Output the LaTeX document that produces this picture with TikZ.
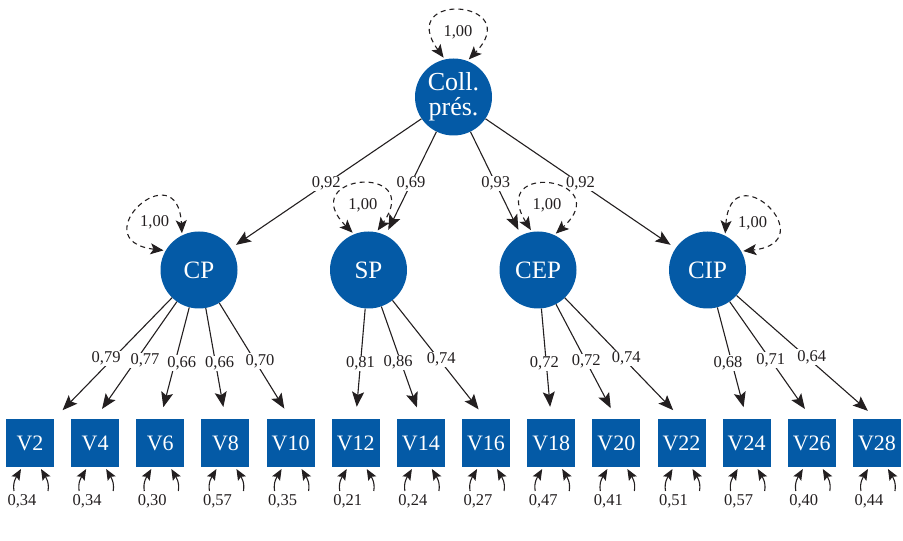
\documentclass[tikz,border=0pt]{standalone}
\usepackage{fontspec}
\setmainfont{Liberation Serif}
\usetikzlibrary{shapes.geometric, arrows.meta, positioning}
\definecolor{semblue}{RGB}{4,90,166}
\definecolor{ink}{RGB}{35,31,32}
\tikzstyle{latent} = [circle, minimum size=77pt, inner sep=0pt, fill=semblue, text=white, font=\fontsize{25}{25}\selectfont]
\tikzstyle{observed} = [rectangle, minimum size=48pt, inner sep=0pt, fill=semblue, text=white, font=\fontsize{22}{22}\selectfont]
\tikzstyle{arrow} = [line width=1.1pt, draw=ink, -{Stealth[length=15pt,width=12pt,inset=3pt]}]
\tikzstyle{loading} = [arrow, shorten >=12pt]
\tikzstyle{lbl} = [fill=white, inner sep=1pt, text=ink, font=\fontsize{16.5}{16.5}\selectfont]
\tikzstyle{numlbl} = [inner sep=1pt, text=ink, font=\fontsize{16.5}{16.5}\selectfont]
\tikzstyle{varloop} = [line width=1.1pt, draw=ink, dash pattern=on 5pt off 4pt, shorten <=2pt, shorten >=2pt, {Stealth[length=13pt,width=11pt,inset=3pt]}-{Stealth[length=13pt,width=11pt,inset=3pt]}]
\tikzstyle{resid} = [line width=1.1pt, draw=ink, -{Stealth[length=11pt,width=9pt,inset=2pt]}]

% variance loop of a latent: node, axis angle
\newcommand{\latvar}[2]{%
  \pgfmathtruncatemacro{\lvS}{#2+17}%
  \pgfmathtruncatemacro{\lvE}{#2-17}%
  \pgfmathtruncatemacro{\lvO}{#2+40}%
  \pgfmathtruncatemacro{\lvI}{#2-40}%
  \draw [varloop] (#1.\lvS) to[out=\lvO, in=\lvI, distance=85pt] (#1.\lvE);
  \node [numlbl] (var#1) at ([shift={(#2:65pt)}]#1.center) {1,00};
}
% residual of an indicator: node, value
\newcommand{\resvar}[2]{%
  \draw [resid] ([shift={(-16pt,-48pt)}]#1.center) to[out=100, in=240] ([shift={(-9pt,-26pt)}]#1.center);
  \draw [resid] ([shift={(18pt,-48pt)}]#1.center) to[out=80, in=300] ([shift={(11pt,-26pt)}]#1.center);
  \node [numlbl] (e#1) at ([shift={(-8pt,-58pt)}]#1.center) {#2};
}

\begin{document}
\begin{tikzpicture}[x=1pt, y=1pt, node distance=65.15pt]
\useasboundingbox (0,0) rectangle (903,541);
% Nodes
\node (coll) [latent, align=center, font=\fontsize{26}{25}\selectfont] at (453.5,444) {Coll.\\prés.};
\node (CP) [latent] at (199,271) {CP};
\node (SP) [latent, right of=CP, node distance=169.5pt] {SP};
\node (CEP) [latent, right of=SP, node distance=169.5pt] {CEP};
\node (CIP) [latent, right of=CEP, node distance=169.5pt] {CIP};

\node (V2) [observed] at (30,98) {V2};
\node (V4) [observed, right of=V2] {V4};
\node (V6) [observed, right of=V4] {V6};
\node (V8) [observed, right of=V6] {V8};
\node (V10) [observed, right of=V8] {V10};
\node (V12) [observed, right of=V10] {V12};
\node (V14) [observed, right of=V12] {V14};
\node (V16) [observed, right of=V14] {V16};
\node (V18) [observed, right of=V16] {V18};
\node (V20) [observed, right of=V18] {V20};
\node (V22) [observed, right of=V20] {V22};
\node (V24) [observed, right of=V22] {V24};
\node (V26) [observed, right of=V24] {V26};
\node (V28) [observed, right of=V26] {V28};

% Arrows
\draw [arrow, shorten >=6pt] (coll) -- node[lbl] (g1) {0,92} (CP);
\draw [arrow, shorten >=6pt] (coll) -- node[lbl] (g2) {0,69} (SP);
\draw [arrow, shorten >=6pt] (coll) -- node[lbl] (g3) {0,93} (CEP);
\draw [arrow, shorten >=6pt] (coll) -- node[lbl] (g4) {0,92} (CIP);

\draw [loading] (CP) -- node[lbl, xshift=-7pt] (l2) {0,79} (V2.north east);
\draw [loading] (CP) -- node[lbl, xshift=9pt] (l4) {0,77} (V4.north);
\draw [loading] (CP) -- node[lbl, xshift=7pt] (l6) {0,66} (V6.north);
\draw [loading] (CP) -- node[lbl, xshift=4pt] (l8) {0,66} (V8.north);
\draw [loading] (CP) -- node[lbl, xshift=5pt] (l10) {0,70} (V10.north);
\draw [loading] (SP) -- node[lbl] (l12) {0,81} (V12.north);
\draw [loading] (SP) -- node[lbl, xshift=-3pt] (l14) {0,86} (V14.north);
\draw [loading] (SP) -- node[lbl, xshift=2pt] (l16) {0,74} (V16.north);
\draw [loading] (CEP) -- node[lbl, xshift=-2pt] (l18) {0,72} (V18.north);
\draw [loading] (CEP) -- node[lbl] (l20) {0,72} (V20.north);
\draw [loading] (CEP) -- node[lbl, xshift=3pt] (l22) {0,74} (V22.north);
\draw [loading] (CIP) -- node[lbl, xshift=-4pt] (l24) {0,68} (V24.north);
\draw [loading] (CIP) -- node[lbl] (l26) {0,71} (V26.north);
\draw [loading] (CIP) -- node[lbl, xshift=5pt] (l28) {0,64} (V28.north);

% Variances
\latvar{coll}{86}
\latvar{CP}{133}
\latvar{SP}{95}
\latvar{CEP}{82}
\latvar{CIP}{46}

% Residuals
\resvar{V2}{0,34}
\resvar{V4}{0,34}
\resvar{V6}{0,30}
\resvar{V8}{0,57}
\resvar{V10}{0,35}
\resvar{V12}{0,21}
\resvar{V14}{0,24}
\resvar{V16}{0,27}
\resvar{V18}{0,47}
\resvar{V20}{0,41}
\resvar{V22}{0,51}
\resvar{V24}{0,57}
\resvar{V26}{0,40}
\resvar{V28}{0,44}
\end{tikzpicture}
\end{document}
